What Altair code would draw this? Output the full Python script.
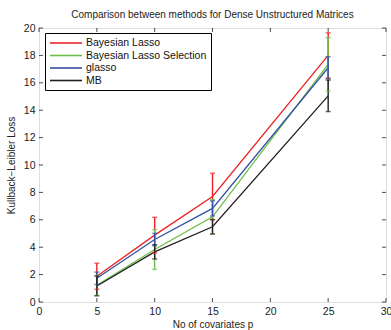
import altair as alt
import pandas as pd

p_values = [5, 10, 15, 25]
series = ["Bayesian Lasso", "Bayesian Lasso Selection", "glasso", "MB"]
colors = ["#ec2227", "#6cbf48", "#3451a3", "#231f20"]

bl_mean = [1.88, 4.88, 7.70, 18.00]
bl_err = [0.95, 1.30, 1.70, 1.65]
bls_mean = [1.22, 3.83, 6.22, 17.35]
bls_err = [0.72, 1.45, 1.25, 1.95]
gl_mean = [1.73, 4.56, 6.83, 17.10]
gl_err = [0.45, 0.45, 0.55, 0.80]
mb_mean = [1.17, 3.66, 5.49, 15.05]
mb_err = [0.72, 0.52, 0.53, 1.15]

x_ticks = [0, 5, 10, 15, 20, 25, 30]
y_ticks = [0, 2, 4, 6, 8, 10, 12, 14, 16, 18, 20]

means = [bl_mean, bls_mean, gl_mean, mb_mean]
errs = [bl_err, bls_err, gl_err, mb_err]
rows = []
for si, name in enumerate(series):
    for j, p in enumerate(p_values):
        m = means[si][j]
        e = errs[si][j]
        rows.append({"series": name, "order": si, "p": p, "mean": m,
                     "lower": m - e, "upper": m + e})
df = pd.DataFrame(rows)

FONT = "Liberation Sans"
color_scale = alt.Scale(domain=series, range=colors)
xs = alt.Scale(domain=[0, 30], nice=False)
ys = alt.Scale(domain=[0, 20], nice=False)

x_axis = alt.Axis(values=x_ticks, title="No of covariates p", grid=False,
                  ticks=False, domain=False, labelPadding=4,
                  titlePadding=3, labelFontSize=10.5, titleFontSize=10,
                  labelFont=FONT, titleFont=FONT, labelColor="#222",
                  titleColor="#222", titleFontWeight="normal",
                  labelOverlap=False, labelFlush=False)
y_axis = alt.Axis(values=y_ticks, title="Kullback\u2212Leibler Loss", grid=False,
                  ticks=False, domain=False, labelPadding=4,
                  titlePadding=7, labelFontSize=10.5, titleFontSize=10,
                  labelFont=FONT, titleFont=FONT, labelColor="#222",
                  titleColor="#222", titleFontWeight="normal",
                  labelOverlap=False, labelFlush=False)

base = alt.Chart(df)

lines = base.mark_line(strokeWidth=1.3).encode(
    x=alt.X("p:Q", scale=xs, axis=x_axis),
    y=alt.Y("mean:Q", scale=ys, axis=y_axis),
    color=alt.Color("series:N", scale=color_scale, sort=series,
                    legend=alt.Legend(
                        title=None, orient="none", legendX=6, legendY=5,
                        symbolType="M-1,0H5.4", symbolSize=100,
                        symbolStrokeWidth=1.6, labelOffset=25,
                        labelFont=FONT, labelFontSize=10.5, labelColor="#111",
                        padding=4, rowPadding=0.5, strokeColor="black",
                        fillColor="white", labelLimit=300)),
    detail="series:N",
    order="order:Q",
)

cenc = alt.Color("series:N", scale=color_scale, legend=None)
rules = base.mark_rule(strokeWidth=1.4).encode(
    x=alt.X("p:Q", scale=xs, axis=x_axis),
    y=alt.Y("lower:Q", scale=ys, axis=y_axis), y2="upper:Q", color=cenc,
)
caps_lo = base.mark_tick(orient="horizontal", size=5, thickness=1.4).encode(
    x=alt.X("p:Q", scale=xs, axis=x_axis),
    y=alt.Y("lower:Q", scale=ys, axis=y_axis), color=cenc,
)
caps_hi = base.mark_tick(orient="horizontal", size=5, thickness=1.4).encode(
    x=alt.X("p:Q", scale=xs, axis=x_axis),
    y=alt.Y("upper:Q", scale=ys, axis=y_axis), color=cenc,
)

xt = pd.DataFrame({"v": x_ticks})
yt = pd.DataFrame({"v": y_ticks})
tick_bottom = alt.Chart(xt).mark_tick(orient="vertical", size=4, thickness=1,
                                      color="black", yOffset=-2).encode(
    x=alt.X("v:Q", scale=xs, axis=x_axis), y=alt.datum(0, scale=ys, axis=y_axis))
tick_top = alt.Chart(xt).mark_tick(orient="vertical", size=4, thickness=1,
                                   color="black", yOffset=2).encode(
    x=alt.X("v:Q", scale=xs, axis=x_axis), y=alt.datum(20, scale=ys, axis=y_axis))
tick_left = alt.Chart(yt).mark_tick(orient="horizontal", size=4, thickness=1,
                                    color="black", xOffset=2).encode(
    y=alt.Y("v:Q", scale=ys, axis=y_axis), x=alt.datum(0, scale=xs, axis=x_axis))
tick_right = alt.Chart(yt).mark_tick(orient="horizontal", size=4, thickness=1,
                                     color="black", xOffset=-2).encode(
    y=alt.Y("v:Q", scale=ys, axis=y_axis), x=alt.datum(30, scale=xs, axis=x_axis))

chart = alt.layer(
    lines, rules, caps_lo, caps_hi,
    tick_bottom, tick_top, tick_left, tick_right,
).properties(
    width=347, height=274,
    title=alt.Title("Comparison between methods for Dense Unstructured Matrices",
                    font=FONT, fontSize=10, fontWeight="normal", color="#222",
                    offset=3, anchor="middle"),
    autosize=alt.AutoSizeParams(type="none"),
    padding={"left": 39, "top": 28, "right": 5, "bottom": 28},
).configure_view(stroke="black", strokeWidth=1).configure(background="white")

chart.save("out.html", embed_options={"renderer": "svg", "actions": False})
